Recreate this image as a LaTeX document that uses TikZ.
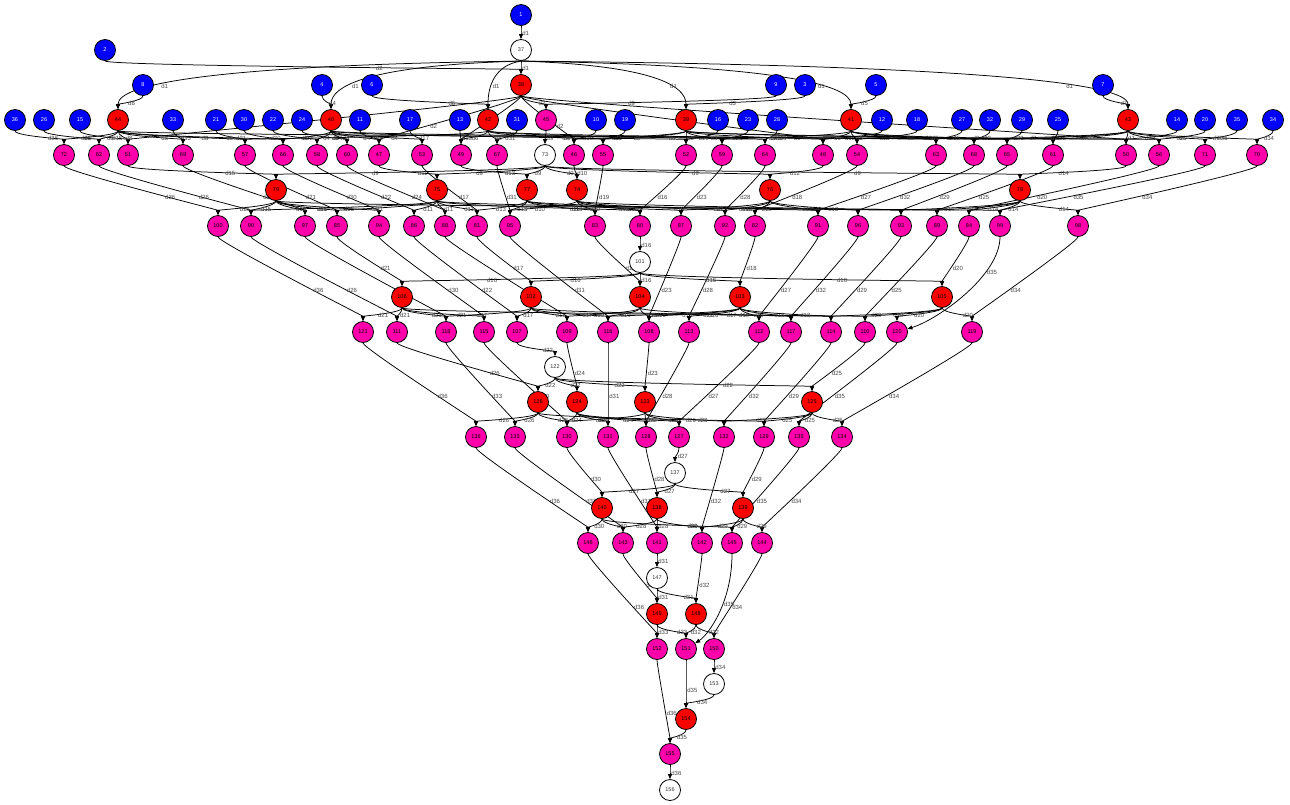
\documentclass[tikz,border=0pt]{standalone}
\usepackage{fontspec}
\setmainfont{Liberation Sans}
\usetikzlibrary{arrows.meta,calc,backgrounds}
\definecolor{cB}{RGB}{0,0,255}
\definecolor{cR}{RGB}{255,0,0}
\definecolor{cM}{RGB}{255,0,170}
\definecolor{cL}{RGB}{70,70,70}
\tikzset{
 gn/.style={circle,draw=black,line width=0.8pt,minimum size=21pt,inner sep=0pt,font=\fontsize{5.5}{6}\selectfont},
 bnode/.style={gn,fill=cB,text=white},
 rnode/.style={gn,fill=cR,text=black},
 mnode/.style={gn,fill=cM,text=black},
 wnode/.style={gn,fill=white,text=black!80},
 conn/.style={draw=black,line width=0.75pt,-{Triangle[length=5pt,width=4pt]}},
 lab/.style={font=\fontsize{6}{7}\selectfont,text=cL,anchor=west,inner sep=1pt},
}
\newcommand{\mkB}[3]{\node[bnode] (n#1) at (#2,#3) {#1};}
\newcommand{\mkR}[3]{\node[rnode] (n#1) at (#2,#3) {#1};}
\newcommand{\mkM}[3]{\node[mnode] (n#1) at (#2,#3) {#1};}
\newcommand{\mkW}[3]{\node[wnode] (n#1) at (#2,#3) {#1};}
\newcommand{\myE}[3]{\draw[conn] (n#1) .. controls ($(n#1)+(0,16)$) and ($(n#2)+(0,-16)$) .. (n#2) node[lab,pos=0.6]{#3};}
\newcommand{\myF}[3]{\draw[conn] (n#1) .. controls ($(n#1)+(0,12)$) and ($(n#1 -| n#2)+(0,12)$) .. (n#2) node[lab,pos=0.8]{#3};}
\begin{document}
\begin{tikzpicture}[x=1pt,y=-1pt]
\useasboundingbox (0,0) rectangle (1290,804);
% blue
\mkB{1}{521}{15}
\mkB{2}{105}{50}
\mkB{8}{143}{85}\mkB{4}{322}{85}\mkB{6}{372}{85}\mkB{9}{776}{85}\mkB{3}{805}{85}\mkB{5}{876}{85}\mkB{7}{1103}{85}
\mkB{36}{15}{120}\mkB{26}{44}{120}\mkB{15}{80}{120}\mkB{33}{173}{120}\mkB{21}{216}{120}\mkB{30}{244}{120}\mkB{22}{273}{120}\mkB{24}{302}{120}\mkB{11}{360}{120}\mkB{17}{410}{120}\mkB{13}{460}{120}\mkB{31}{517}{120}\mkB{10}{596}{120}\mkB{19}{625}{120}\mkB{16}{718}{120}\mkB{23}{748}{120}\mkB{28}{777}{120}\mkB{12}{882}{120}\mkB{18}{917}{120}\mkB{27}{962}{120}\mkB{32}{990}{120}\mkB{29}{1022}{120}\mkB{25}{1058}{120}\mkB{14}{1177}{120}\mkB{20}{1205}{120}\mkB{35}{1237}{120}\mkB{34}{1273}{120}
% white
\mkW{37}{521}{50}\mkW{73}{545}{155}\mkW{101}{640}{262}\mkW{122}{555}{367}\mkW{137}{675}{473}\mkW{147}{657}{578}\mkW{153}{714}{684}\mkW{156}{670}{790}
% red
\mkR{38}{521}{85}
\mkR{44}{118}{120}\mkR{40}{331}{120}\mkR{42}{488}{120}\mkR{39}{686}{120}\mkR{41}{851}{120}\mkR{43}{1128}{120}
\mkR{79}{276}{190}\mkR{75}{437}{190}\mkR{77}{527}{190}\mkR{74}{577}{190}\mkR{76}{770}{190}\mkR{78}{1020}{190}
\mkR{106}{402}{297}\mkR{102}{531}{297}\mkR{104}{640}{297}\mkR{103}{740}{297}\mkR{105}{942}{297}
\mkR{126}{538}{402}\mkR{124}{577}{402}\mkR{123}{645}{402}\mkR{125}{812}{402}
\mkR{140}{602}{508}\mkR{138}{657}{508}\mkR{139}{743}{508}
\mkR{149}{657}{614}\mkR{148}{696}{614}
\mkR{154}{686}{719}
% magenta
\mkM{45}{546}{120}
\mkM{72}{64}{155}\mkM{62}{99}{155}\mkM{51}{128}{155}\mkM{69}{183}{155}\mkM{57}{245}{155}\mkM{66}{283}{155}\mkM{58}{317}{155}\mkM{60}{347}{155}\mkM{47}{379}{155}\mkM{53}{422}{155}\mkM{49}{461}{155}\mkM{67}{497}{155}\mkM{46}{574}{155}\mkM{55}{603}{155}\mkM{52}{686}{155}\mkM{59}{722}{155}\mkM{64}{765}{155}\mkM{48}{823}{155}\mkM{54}{857}{155}\mkM{63}{936}{155}\mkM{68}{974}{155}\mkM{65}{1007}{155}\mkM{61}{1053}{155}\mkM{50}{1126}{155}\mkM{56}{1159}{155}\mkM{71}{1205}{155}\mkM{70}{1257}{155}
\mkM{100}{218}{226}\mkM{90}{251}{226}\mkM{97}{305}{226}\mkM{85}{337}{226}\mkM{94}{379}{226}\mkM{86}{414}{226}\mkM{88}{445}{226}\mkM{81}{477}{226}\mkM{95}{510}{226}\mkM{83}{595}{226}\mkM{80}{640}{226}\mkM{87}{681}{226}\mkM{92}{725}{226}\mkM{82}{755}{226}\mkM{91}{818}{226}\mkM{96}{858}{226}\mkM{93}{901}{226}\mkM{89}{937}{226}\mkM{84}{969}{226}\mkM{99}{1000}{226}\mkM{98}{1078}{226}
\mkM{121}{363}{332}\mkM{111}{397}{332}\mkM{118}{446}{332}\mkM{115}{484}{332}\mkM{107}{517}{332}\mkM{109}{567}{332}\mkM{116}{608}{332}\mkM{108}{649}{332}\mkM{113}{689}{332}\mkM{112}{759}{332}\mkM{117}{791}{332}\mkM{114}{831}{332}\mkM{110}{865}{332}\mkM{120}{897}{332}\mkM{119}{972}{332}
\mkM{136}{476}{437}\mkM{133}{515}{437}\mkM{130}{567}{437}\mkM{131}{608}{437}\mkM{128}{646}{437}\mkM{127}{679}{437}\mkM{132}{724}{437}\mkM{129}{764}{437}\mkM{135}{799}{437}\mkM{134}{842}{437}
\mkM{146}{588}{543}\mkM{143}{623}{543}\mkM{141}{657}{543}\mkM{142}{702}{543}\mkM{145}{732}{543}\mkM{144}{762}{543}
\mkM{152}{657}{649}\mkM{151}{686}{649}\mkM{150}{714}{649}
\mkM{155}{670}{754}
\begin{scope}[on background layer]
\fill[white] (0,0) rectangle (1290,804);
\myE{1}{37}{d1}
\myE{37}{38}{d1}\myF{37}{44}{d1}\myF{37}{40}{d1}\myF{37}{42}{d1}\myF{37}{39}{d1}\myF{37}{41}{d1}\myF{37}{43}{d1}
\myE{2}{38}{d2}
\myE{8}{44}{d8}\myE{4}{40}{d4}\myE{6}{42}{d6}\myE{3}{39}{d3}\myE{5}{41}{d5}\myE{7}{43}{d7}\myE{9}{45}{d9}
\myE{38}{45}{d2}\myE{38}{51}{d2}\myE{38}{49}{d2}\myE{38}{46}{d2}\myE{38}{48}{d2}\myE{38}{50}{d2}\myE{38}{47}{d2}
\myE{36}{72}{d36}\myE{26}{62}{d26}\myE{15}{51}{d15}\myE{33}{69}{d33}\myE{21}{57}{d21}\myE{30}{66}{d30}\myE{22}{58}{d22}\myE{24}{60}{d24}\myE{11}{47}{d11}\myE{17}{53}{d17}\myE{13}{49}{d13}\myE{31}{67}{d31}\myE{10}{46}{d10}\myE{19}{55}{d19}\myE{16}{52}{d16}\myE{23}{59}{d23}\myE{28}{64}{d28}\myE{12}{48}{d12}\myE{18}{54}{d18}\myE{27}{63}{d27}\myE{32}{68}{d32}\myE{29}{65}{d29}\myE{25}{61}{d25}\myE{14}{50}{d14}\myE{20}{56}{d20}\myE{35}{71}{d35}\myE{34}{70}{d34}
\myE{44}{72}{d8}\myE{44}{62}{d8}\myE{44}{51}{d8}\myE{44}{69}{d8}\myE{44}{57}{d8}\myE{44}{66}{d8}\myE{44}{56}{d8}
\myE{40}{66}{d4}\myE{40}{58}{d4}\myE{40}{60}{d4}\myE{40}{47}{d4}\myE{40}{53}{d4}\myE{40}{52}{d4}\myE{40}{65}{d4}
\myE{42}{49}{d6}\myE{42}{67}{d6}\myE{42}{55}{d6}\myE{42}{57}{d6}\myE{42}{64}{d6}\myE{42}{63}{d6}
\myE{39}{46}{d3}\myE{39}{55}{d3}\myE{39}{52}{d3}\myE{39}{59}{d3}\myE{39}{48}{d3}\myE{39}{61}{d3}\myE{39}{50}{d3}
\myE{41}{59}{d5}\myE{41}{48}{d5}\myE{41}{54}{d5}\myE{41}{63}{d5}\myE{41}{68}{d5}\myE{41}{65}{d5}
\myE{43}{61}{d7}\myE{43}{65}{d7}\myE{43}{68}{d7}\myE{43}{50}{d7}\myE{43}{56}{d7}\myE{43}{71}{d7}\myE{43}{70}{d7}
\myE{45}{73}{d9}
\myE{73}{79}{d9}\myE{73}{75}{d9}\myE{73}{77}{d9}\myE{73}{74}{d9}\myE{73}{76}{d9}\myE{73}{78}{d9}
\myE{72}{100}{d36}\myE{62}{90}{d26}\myE{51}{79}{d15}\myE{69}{97}{d33}\myE{57}{85}{d21}\myE{66}{94}{d30}\myE{58}{86}{d22}\myE{60}{88}{d24}\myE{47}{75}{d11}\myE{53}{81}{d17}\myE{49}{77}{d13}\myE{67}{95}{d31}\myE{46}{74}{d10}\myE{55}{83}{d19}\myE{52}{80}{d16}\myE{59}{87}{d23}\myE{64}{92}{d28}\myE{48}{76}{d12}\myE{54}{82}{d18}\myE{63}{91}{d27}\myE{68}{96}{d32}\myE{65}{93}{d29}\myE{61}{89}{d25}\myE{50}{78}{d14}\myE{56}{84}{d20}\myE{71}{99}{d35}\myE{70}{98}{d34}
\myE{79}{100}{d15}\myE{79}{90}{d15}\myE{79}{97}{d15}\myE{79}{85}{d15}\myE{79}{94}{d15}\myE{79}{99}{d15}
\myE{75}{90}{d11}\myE{75}{85}{d11}\myE{75}{86}{d11}\myE{75}{88}{d11}\myE{75}{81}{d11}\myE{75}{80}{d11}\myE{75}{93}{d11}
\myE{77}{81}{d13}\myE{77}{95}{d13}\myE{77}{83}{d13}\myE{77}{87}{d13}\myE{77}{91}{d13}
\myE{74}{95}{d10}\myE{74}{83}{d10}\myE{74}{80}{d10}\myE{74}{92}{d10}\myE{74}{89}{d10}
\myE{76}{87}{d12}\myE{76}{92}{d12}\myE{76}{82}{d12}\myE{76}{91}{d12}\myE{76}{96}{d12}
\myE{78}{93}{d14}\myE{78}{89}{d14}\myE{78}{84}{d14}\myE{78}{99}{d14}\myE{78}{98}{d14}
\myE{100}{121}{d36}\myE{90}{111}{d26}\myE{97}{118}{d33}\myE{85}{106}{d21}\myE{94}{115}{d30}\myE{86}{107}{d22}\myE{88}{109}{d24}\myE{81}{102}{d17}\myE{95}{116}{d31}\myE{83}{104}{d19}\myE{80}{101}{d16}\myE{87}{108}{d23}\myE{92}{113}{d28}\myE{82}{103}{d18}\myE{91}{112}{d27}\myE{96}{117}{d32}\myE{93}{114}{d29}\myE{89}{110}{d25}\myE{84}{105}{d20}\myE{98}{119}{d34}
\draw[conn] (n99) .. controls +(0,50) and +(40,-12) .. (n120) node[lab,pos=0.3]{d35};
\myE{101}{106}{d16}\myE{101}{102}{d16}\myE{101}{104}{d16}\myE{101}{103}{d16}\myE{101}{105}{d16}
\myE{106}{121}{d21}\myE{106}{111}{d21}\myE{106}{118}{d21}\myE{106}{115}{d21}\myE{106}{110}{d21}
\myE{102}{118}{d17}\myE{102}{107}{d17}\myE{102}{109}{d17}\myE{102}{116}{d17}\myE{102}{114}{d17}
\myE{104}{109}{d19}\myE{104}{116}{d19}\myE{104}{108}{d19}\myE{104}{117}{d19}
\myE{103}{116}{d18}\myE{103}{108}{d18}\myE{103}{113}{d18}\myE{103}{112}{d18}\myE{103}{117}{d18}\myE{103}{114}{d18}
\myE{105}{110}{d20}\myE{105}{120}{d20}\myE{105}{119}{d20}\myE{105}{114}{d20}
\myE{121}{136}{d36}\myE{111}{126}{d26}\myE{118}{133}{d33}\myE{115}{130}{d30}\myE{107}{122}{d22}\myE{109}{124}{d24}\myE{116}{131}{d31}\myE{108}{123}{d23}\myE{113}{128}{d28}\myE{112}{127}{d27}\myE{117}{132}{d32}\myE{114}{129}{d29}\myE{110}{125}{d25}\myE{120}{135}{d35}\myE{119}{134}{d34}
\myE{122}{126}{d22}\myE{122}{124}{d22}\myE{122}{123}{d22}\myE{122}{125}{d22}
\myE{126}{136}{d26}\myE{126}{133}{d26}\myE{126}{130}{d26}\myE{126}{129}{d26}
\myE{124}{130}{d24}\myE{124}{131}{d24}\myE{124}{128}{d24}\myE{124}{127}{d24}
\myE{123}{130}{d23}\myE{123}{128}{d23}\myE{123}{127}{d23}\myE{123}{132}{d23}
\myE{125}{132}{d25}\myE{125}{129}{d25}\myE{125}{135}{d25}\myE{125}{134}{d25}
\myE{136}{146}{d36}\myE{133}{143}{d33}\myE{130}{140}{d30}\myE{131}{141}{d31}\myE{128}{138}{d28}\myE{127}{137}{d27}\myE{132}{142}{d32}\myE{129}{139}{d29}\myE{135}{145}{d35}\myE{134}{144}{d34}
\myE{137}{140}{d27}\myE{137}{138}{d27}\myE{137}{139}{d27}
\myE{140}{146}{d30}\myE{140}{143}{d30}\myE{140}{145}{d30}
\myE{138}{143}{d28}\myE{138}{141}{d28}\myE{138}{142}{d28}
\myE{139}{142}{d29}\myE{139}{145}{d29}\myE{139}{144}{d29}
\myE{146}{152}{d36}\myE{143}{149}{d33}\myE{141}{147}{d31}\myE{142}{148}{d32}\myE{144}{150}{d34}
\draw[conn] (n145) .. controls +(0,60) and +(22,-14) .. (n151) node[lab,pos=0.4]{d35};
\myE{147}{149}{d31}\myE{147}{148}{d31}
\myE{149}{152}{d33}\myE{149}{151}{d33}
\myE{148}{151}{d32}\myE{148}{150}{d32}
\myE{152}{155}{d36}\myE{151}{154}{d35}\myE{150}{153}{d34}\myE{153}{154}{d34}\myE{154}{155}{d35}\myE{155}{156}{d36}
\end{scope}
\end{tikzpicture}
\end{document}
